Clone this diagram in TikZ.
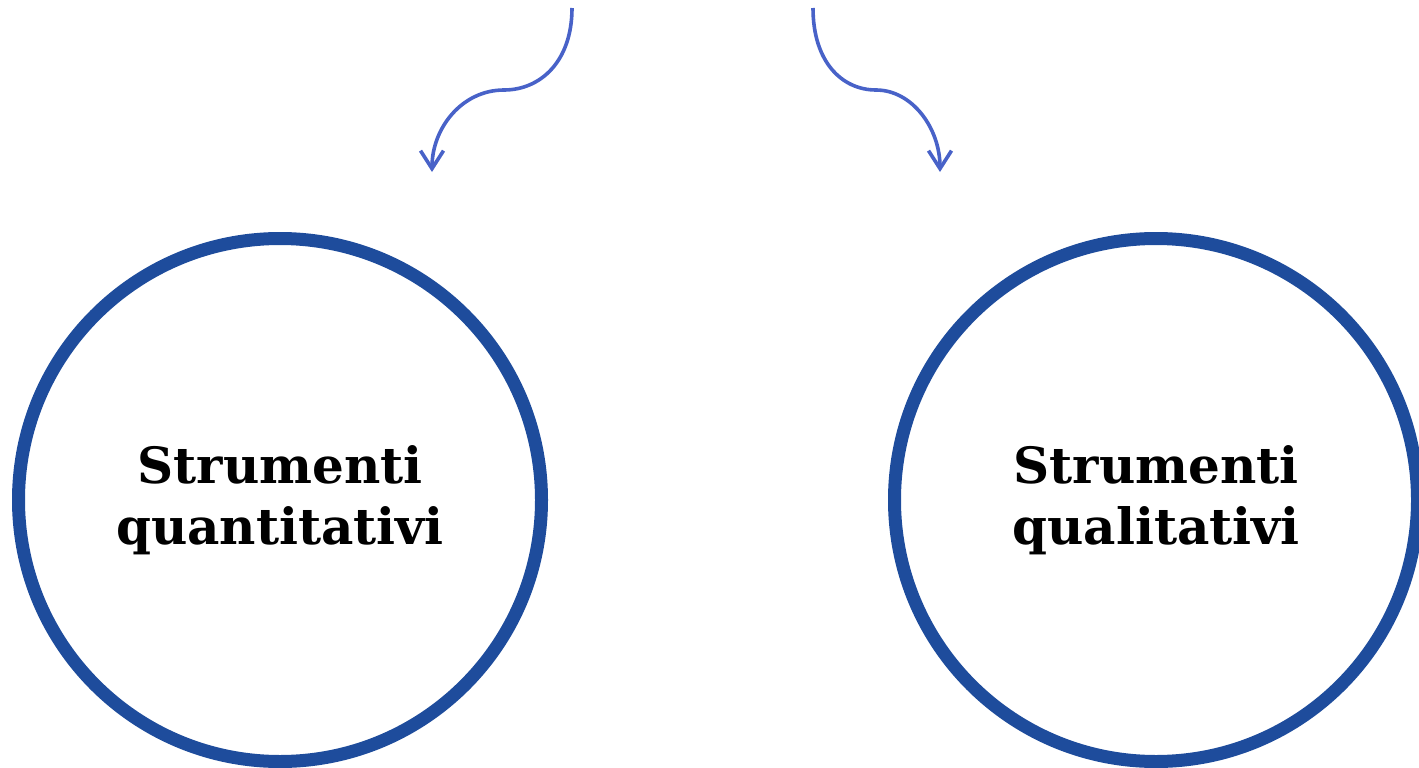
\documentclass[tikz,border=0pt]{standalone}
\usepackage{fontspec}
\setmainfont{DejaVu Serif}
\usetikzlibrary{arrows.meta}
\definecolor{ringblue}{RGB}{30,76,156}
\definecolor{arrowblue}{RGB}{72,98,200}
\tikzset{
  ring/.style={circle, draw=ringblue, line width=13pt, minimum size=523pt, inner sep=0pt,
    align=center, font=\fontsize{50}{61}\selectfont\bfseries},
  curvearrow/.style={draw=arrowblue, line width=3.6pt,
    -{Straight Barb[length=18pt, width=23pt, line width=3.6pt]}}
}
\begin{document}
\begin{tikzpicture}[x=1pt, y=-1pt]
\useasboundingbox (0,0) rectangle (1419,768);
\node[ring] (quant) at (280,500) {Strumenti\\quantitativi};
\node[ring] (qual) at (1156,500) {Strumenti\\qualitativi};
\coordinate (ls) at (572,8);
\coordinate (lm) at (504,90);
\coordinate (le) at (432,172);
\coordinate (rs) at (813,8);
\coordinate (rm) at (876,90);
\coordinate (re) at (940,172);
\draw[curvearrow] (ls) .. controls (572,62) and (540,90) .. (lm) .. controls (462,90) and (432,128) .. (le);
\draw[curvearrow] (rs) .. controls (813,62) and (842,90) .. (rm) .. controls (912,90) and (940,128) .. (re);
\end{tikzpicture}
\end{document}
